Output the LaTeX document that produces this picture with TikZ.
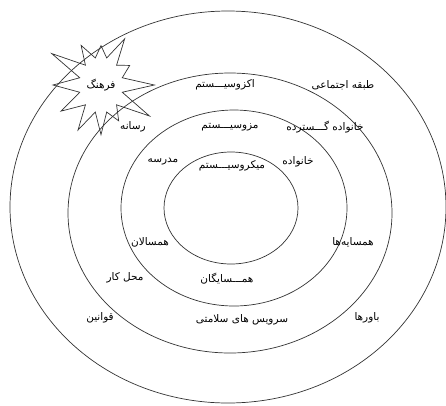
\documentclass[tikz,border=0pt]{standalone}
\usepackage{fontspec}
\usepackage{tikz}
\usetikzlibrary{shapes.symbols}
\TeXXeTstate=1
\newfontfamily\farsifont[Script=Arabic]{DejaVu Sans}

\begin{document}
\begin{tikzpicture}[
        x=1pt, y=-1pt,
        ring/.style = {draw=black!80, line width=0.7pt},
        lbl/.style = {font=\farsifont\fontsize{10.5}{12}\selectfont, inner sep=1pt},
        burst/.style = {draw=black!80, line width=0.7pt, starburst, starburst points=12, starburst point height=36pt, random starburst=3, minimum width=116pt, minimum height=128pt}
    ]
        \useasboundingbox (0,0) rectangle (446,405);

        % Rings
        \draw [ring] (228,207) ellipse [x radius=218pt, y radius=196pt];
        \draw [ring] (230,213) ellipse [x radius=162pt, y radius=140pt];
        \draw [ring] (234,208) ellipse [x radius=113pt, y radius=98pt];
        \draw [ring] (231,208) ellipse [x radius=67pt, y radius=56pt];

        % Culture
        \node (farhang) [burst, lbl] at (101,85) {\beginR فرهنگ\endR};

        % Exosystem ring
        \node (exo) [lbl] at (225,85) {\beginR اکزوسیـــستم\endR};
        \node (tabaghe) [lbl] at (343,85) {\beginR طبقه اجتماعی\endR};
        \node (resane) [lbl] at (133,127) {\beginR رسانه\endR};
        \node (mezo) [lbl] at (230,127) {\beginR مزوسیـــستم\endR};
        \node (khanGostarde) [lbl] at (325,127) {\beginR خانواده گـــسترده\endR};
        \node (qavanin) [lbl] at (100,318) {\beginR قوانین\endR};
        \node (salamat) [lbl] at (242,320) {\beginR سرویس های سلامتی\endR};
        \node (bavar) [lbl] at (367,318) {\beginR باورها\endR};

        % Mesosystem ring
        \node (madrese) [lbl] at (163,162) {\beginR مدرسه\endR};
        \node (micro) [lbl] at (232,166) {\beginR میکروسیـــستم\endR};
        \node (khanevade) [lbl] at (298,162) {\beginR خانواده\endR};
        \node (hamsalan) [lbl] at (150,242) {\beginR همسالان\endR};
        \node (hamsayeha) [lbl] at (353,242) {\beginR همسایه‌ها\endR};
        \node (mahalKar) [lbl] at (125,278) {\beginR محل کار\endR};
        \node (hamsayegan) [lbl] at (227,279) {\beginR همـــسایگان\endR};

    \end{tikzpicture}
\end{document}
